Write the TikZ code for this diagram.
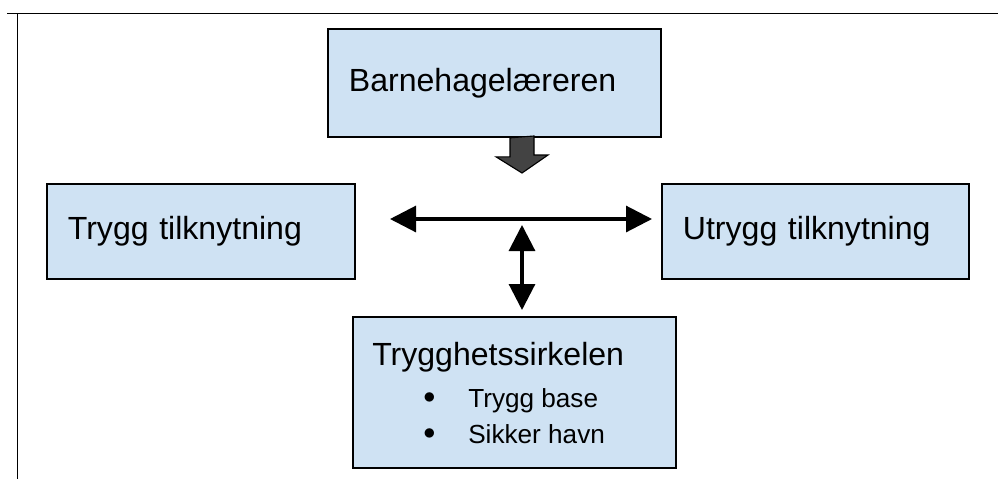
\documentclass[tikz,border=0pt]{standalone}
\usepackage{fontspec}
\setmainfont{Liberation Sans}
\usetikzlibrary{arrows.meta, positioning}
\definecolor{boxblue}{HTML}{CFE2F3}
\definecolor{pushgray}{HTML}{434343}
\def\H{2.375cm}
\def\Pad{0.525cm}
\def\Tip{0.65cm}
\tikzstyle{every node} = [font=\fontsize{22.8pt}{27pt}\selectfont]
\tikzstyle{frame}  = [line width=1.3pt]
\tikzstyle{box}    = [rectangle, draw=black, fill=boxblue, line width=1.3pt, inner xsep=\Pad, inner ysep=0pt, align=left, anchor=north west]
\tikzstyle{item}   = [inner sep=0pt, anchor=base west, font=\fontsize{18.6pt}{22pt}\selectfont]
\tikzstyle{arrow}  = [line width=2.2pt, {Triangle[length=\Tip,width=\Tip]}-{Triangle[length=\Tip,width=\Tip]}]
\tikzstyle{push}   = [draw=black, fill=pushgray, line width=0.8pt, line join=miter]

\begin{document}
\begin{tikzpicture}
\useasboundingbox (0,0) rectangle (24.95,-11.975);
% Frame
    \draw [frame] (0.175,-0.3375) -- (24.95,-0.3375);
    \draw [frame] (0.4375,-0.3375) -- (0.4375,-11.975);

% Objects
    \node (teacher) [box, text width=7.275cm, minimum height=2.7cm] at (8.175,-0.7)   {Barnehagelæreren};
    \node (secure)  [box, text width=6.65cm,  minimum height=\H]    at (1.15,-4.575)  {Trygg tilknytning};
    \node (insecure)[box, text width=6.625cm, minimum height=\H]    at (16.525,-4.575){Utrygg tilknytning};
    \node (circle)  [box, text width=7.025cm, minimum height=3.775cm] at (8.8,-7.9)   {};
    % Circle texts
    \node (circtitle) [item, font=\fontsize{22.8pt}{27pt}\selectfont] at ([xshift=0.5cm, yshift=-1.225cm]circle.north west) {Trygghetssirkelen};
    \node (base)      [item] at ([xshift=1.775cm, yshift=-2.275cm]circle.north west) {\makebox[1.125cm][l]{\raisebox{2.5pt}{$\bullet$}}Trygg base};
    \node (haven)     [item] at ([xshift=1.775cm, yshift=-3.175cm]circle.north west) {\makebox[1.125cm][l]{\raisebox{2.5pt}{$\bullet$}}Sikker havn};

% Arrows
    \coordinate (hub)   at (13.05,-5.475);
    \coordinate (left)  at (9.75,-5.475);
    \coordinate (right) at (16.3,-5.475);
    \coordinate (up)    at (13.05,-5.625);
    \coordinate (tip)   at (13.05,-4.325);
    \draw [arrow] (left) -- (right);
    \draw [arrow] (up) -- ([yshift=0.15cm]circle.north -| up);
    \draw [push] ([xshift=-0.3cm]teacher.south -| tip) -- ++(0,-0.475) -- ++(-0.35,0) -- (tip)
                 -- ++(0.65,0.45) -- ++(-0.35,0) -- ++(0,0.475) -- cycle;
\end{tikzpicture}
\end{document}
